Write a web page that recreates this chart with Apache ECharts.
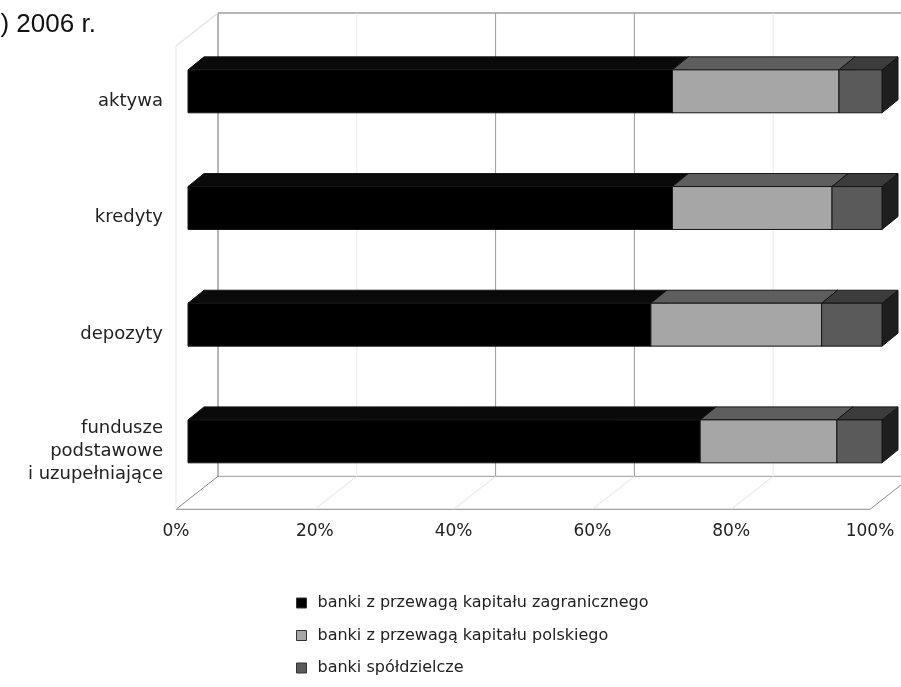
<!DOCTYPE html>
<html><head><meta charset="utf-8">
<script src="https://cdn.jsdelivr.net/npm/echarts@6/dist/echarts.min.js"></script>
<style>html,body{margin:0;padding:0;background:#fff}#c{width:901px;height:687px}</style>
</head><body><div id="c"></div>
<script>
// ---- data ----
const titleText = 'b) 2006 r.';
const categories = ['aktywa', 'kredyty', 'depozyty', 'fundusze\npodstawowe\ni uzupełniające'];
const seriesNames = ['banki z przewagą kapitału zagranicznego', 'banki z przewagą kapitału polskiego', 'banki spółdzielcze'];
const foreignShare = [69.8, 69.8, 66.7, 73.8];
const polishShare = [24.0, 23.0, 24.6, 19.7];
const coopShare = [6.2, 7.2, 8.7, 6.5];
const tickValues = [0, 20, 40, 60, 80, 100];

// ---- style ----
const faces = [
  { front: '#000000', top: '#0a0a0a', side: '#111111' },
  { front: '#a6a6a6', top: '#5e5e5e', side: '#2a2a2a' },
  { front: '#5a5a5a', top: '#3c3c3c', side: '#1e1e1e' }
];
const EDGE = '#151515';
const BAR_RATIO = 0.368;     // bar thickness / band
const BAR_DX = 16, BAR_DY = -13;   // bar depth
const FRONT_DX = -12, FRONT_DY = 9.6;  // floor front plane offset
const BACK_DX = 30, BACK_DY = -23.4;   // back wall offset
const FONT = 'DejaVu Sans';
const GRID_L = 188, GRID_R = 19, GRID_T = 33, GRID_B = 187.3;

const values = [foreignShare, polishShare, coopShare];
const cum = categories.map(() => 0);
const stacked = values.map(arr => arr.map((v, i) => {
  const item = [cum[i], cum[i] + v, i];
  cum[i] += v;
  return item;
}));

function barRenderer(face) {
  return function (params, api) {
    const s = api.value(0), e = api.value(1), c = api.value(2);
    const p0 = api.coord([s, c]);
    const p1 = api.coord([e, c]);
    const h = api.size([0, 1])[1] * BAR_RATIO;
    const top = p0[1] - h / 2, bot = p0[1] + h / 2;
    const x0 = p0[0], x1 = p1[0];
    return {
      type: 'group',
      children: [
        { type: 'polygon', shape: { points: [[x1, top], [x1 + BAR_DX, top + BAR_DY], [x1 + BAR_DX, bot + BAR_DY], [x1, bot]] },
          style: { fill: face.side, stroke: EDGE, lineWidth: 1 } },
        { type: 'polygon', shape: { points: [[x0, top], [x1, top], [x1 + BAR_DX, top + BAR_DY], [x0 + BAR_DX, top + BAR_DY]] },
          style: { fill: face.top, stroke: EDGE, lineWidth: 1 } },
        { type: 'rect', shape: { x: x0, y: top, width: x1 - x0, height: h },
          style: { fill: face.front, stroke: EDGE, lineWidth: 1 } }
      ]
    };
  };
}

function frameRenderer(params, api) {
  const cs = params.coordSys;
  const v = api.value(0);
  const px = api.coord([v, 0])[0];
  const floorFront = cs.y + cs.height + FRONT_DY;
  const floorBack = cs.y + cs.height + BACK_DY;
  const wallTop = cs.y + 3.4 + BACK_DY;
  const major = (v === 40 || v === 60);
  const edge = (v === 0 || v === 100);
  const children = [];
  children.push({ type: 'line', shape: { x1: px + BACK_DX, y1: wallTop, x2: px + BACK_DX, y2: floorBack },
    style: { stroke: edge ? '#6e6e6e' : (major ? '#9a9a9a' : '#ececec'), lineWidth: 1 } });
  children.push({ type: 'line', shape: { x1: px + FRONT_DX, y1: floorFront, x2: px + BACK_DX, y2: floorBack },
    style: { stroke: edge ? '#8a8a8a' : '#e2e2e2', lineWidth: 1 } });
  if (v === 0) {
    const xL = cs.x, xR = cs.x + cs.width;
    children.push({ type: 'line', shape: { x1: xL + BACK_DX, y1: wallTop, x2: xR + BACK_DX, y2: wallTop }, style: { stroke: '#6e6e6e', lineWidth: 1 } });
    children.push({ type: 'line', shape: { x1: xL + BACK_DX, y1: floorBack, x2: xR + BACK_DX, y2: floorBack }, style: { stroke: '#9a9a9a', lineWidth: 1 } });
    children.push({ type: 'line', shape: { x1: xL + FRONT_DX, y1: floorFront, x2: xR + FRONT_DX, y2: floorFront }, style: { stroke: '#8a8a8a', lineWidth: 1 } });
    children.push({ type: 'line', shape: { x1: xL + BACK_DX, y1: wallTop, x2: xL + FRONT_DX, y2: wallTop + (FRONT_DY - BACK_DY) }, style: { stroke: '#e4e4e4', lineWidth: 1.5 } });
    children.push({ type: 'line', shape: { x1: xL + FRONT_DX, y1: wallTop + (FRONT_DY - BACK_DY), x2: xL + FRONT_DX, y2: floorFront }, style: { stroke: '#f0f0f0', lineWidth: 1.5 } });
  }
  return { type: 'group', children };
}

const chart = echarts.init(document.getElementById('c'), null, { renderer: 'canvas' });
const series = [{
  type: 'custom', name: 'frame', silent: true, z: 1,
  renderItem: frameRenderer,
  encode: { x: [0, 1], y: 2 },
  data: tickValues.map(v => [v, v, 0])
}];
stacked.forEach((d, k) => {
  series.push({
    type: 'custom', name: seriesNames[k], z: 2, silent: true,
    itemStyle: { color: faces[k].front },
    renderItem: barRenderer(faces[k]),
    encode: { x: [0, 1], y: 2 },
    data: d
  });
});

const hidden = { axisLine: { show: false }, axisTick: { show: false }, splitLine: { show: false } };

chart.setOption({
  animation: false,
  backgroundColor: '#ffffff',
  title: {
    text: titleText, left: -14, top: 12, padding: 0,
    textStyle: { fontFamily: 'Liberation Sans', fontSize: 26, fontWeight: 'normal', color: '#111' }
  },
  grid: [
    // bar plane
    { left: GRID_L, right: GRID_R, top: GRID_T, bottom: GRID_B, containLabel: false },
    // floor front plane (carries the axis labels)
    { left: GRID_L + FRONT_DX, right: GRID_R - FRONT_DX, top: GRID_T + FRONT_DY, bottom: GRID_B - FRONT_DY, containLabel: false }
  ],
  xAxis: [
    Object.assign({ type: 'value', gridIndex: 0, min: 0, max: 100, interval: 20, axisLabel: { show: false } }, hidden),
    Object.assign({ type: 'value', gridIndex: 1, min: 0, max: 100, interval: 20,
      axisLabel: { formatter: '{value}%', fontFamily: FONT, fontSize: 17, color: '#222', margin: 14 } }, hidden)
  ],
  yAxis: [
    Object.assign({ type: 'category', gridIndex: 0, data: categories, inverse: true, axisLabel: { show: false } }, hidden),
    Object.assign({ type: 'category', gridIndex: 1, data: categories, inverse: true,
      axisLabel: { fontFamily: FONT, fontSize: 18, color: '#222', margin: 13, lineHeight: 23 } }, hidden)
  ],
  legend: {
    orient: 'vertical', left: 291, top: 590, itemWidth: 10, itemHeight: 10, itemGap: 16.5, icon: 'rect',
    selectedMode: false,
    data: seriesNames.map((n, k) => ({ name: n, itemStyle: { color: faces[k].front, borderColor: '#333', borderWidth: 1 } })),
    textStyle: { fontFamily: FONT, fontSize: 16, color: '#222', padding: [0, 0, 0, 6] }
  },
  series
});
</script>
</body></html>
